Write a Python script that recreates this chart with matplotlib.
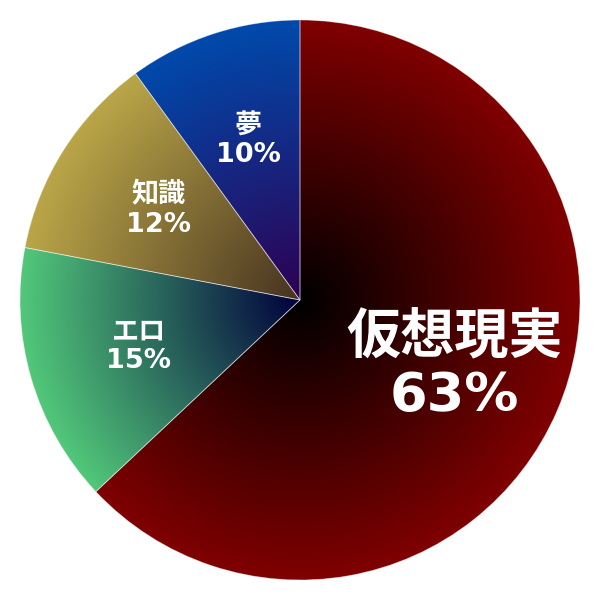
import numpy as np
import matplotlib
matplotlib.use("Agg")
import matplotlib.pyplot as plt
from matplotlib.patches import Wedge

# data
labels = ["仮想現実", "エロ", "知識", "夢"]
shares = [63, 15, 12, 10]
edge_colors = [(128, 0, 0), (82, 200, 122), (186, 166, 72), (0, 74, 172)]
center_colors = [(0, 0, 0), (0, 0, 60), (70, 50, 32), (46, 0, 82)]
font_sizes = [39, 19.5, 19.5, 19.5]

plt.rcParams['font.family'] = ['DejaVu Sans', 'Noto Sans CJK JP']

fig = plt.figure(figsize=(6, 6), dpi=100)
ax = fig.add_axes([0, 0, 1, 1])
ax.set_xlim(0, 600)
ax.set_ylim(0, 600)
ax.set_aspect('equal')
ax.axis('off')

cx, cy, R = 300, 300, 280

# radius grid for the gradient
xs = np.linspace(0, 600, 1200)
X, Y = np.meshgrid(xs, xs)
T = np.clip(np.sqrt((X - cx)**2 + (Y - cy)**2) / R, 0, 1)[..., None]

total = float(sum(shares))
start = 90.0
for lab, val, ec, cc, fs in zip(labels, shares, edge_colors, center_colors, font_sizes):
    sweep = 360.0 * val / total
    end = start - sweep
    c0 = np.array(cc) / 255.0
    c1 = np.array(ec) / 255.0
    img = c0 + (c1 - c0) * T
    w = Wedge((cx, cy), R, end, start, facecolor='none', edgecolor=(1, 1, 1, 0.45), lw=0.6, zorder=3)
    ax.add_patch(w)
    im = ax.imshow(img, extent=(0, 600, 0, 600), origin='lower', zorder=2, interpolation='bilinear')
    im.set_clip_path(w)

    mid = np.radians((start + end) / 2)
    tx = cx + 0.6 * R * np.cos(mid)
    ty = cy + 0.6 * R * np.sin(mid)
    ax.text(tx, ty, f"{lab}\n{val}%", color='white', fontsize=fs, fontweight='bold',
            ha='center', va='center', linespacing=1.15, zorder=4)
    start = end

fig.savefig("out.png", dpi=100)
